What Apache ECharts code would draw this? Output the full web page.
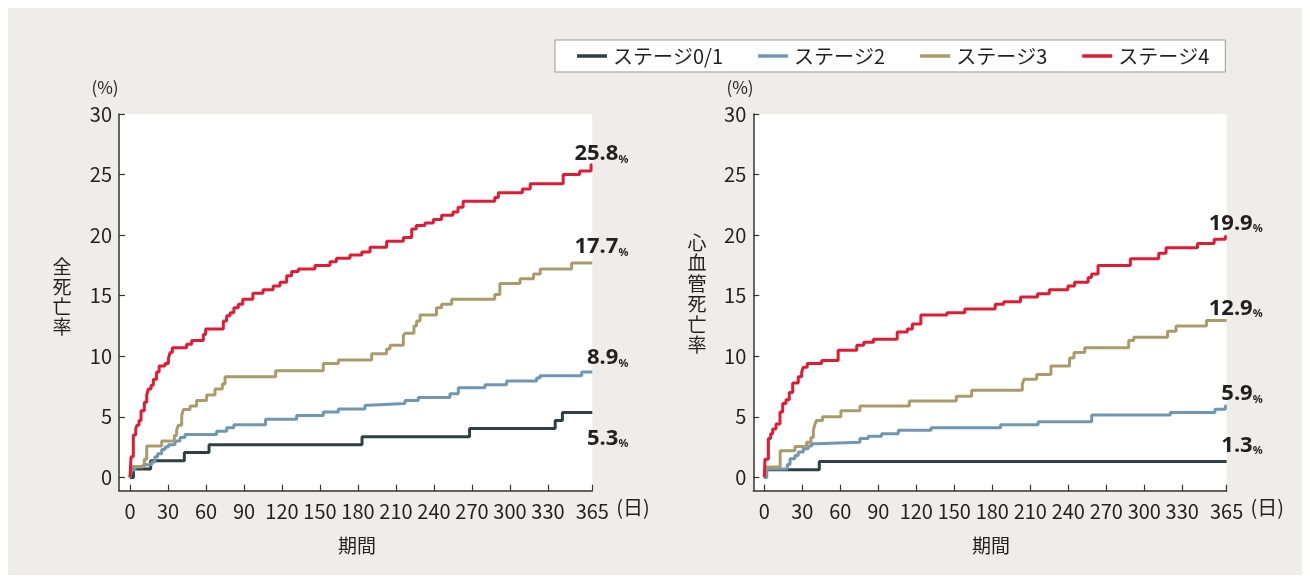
<!DOCTYPE html>
<html>
<head>
<meta charset="utf-8">
<script src="https://cdn.jsdelivr.net/npm/echarts@6/dist/echarts.min.js"></script>
<style>
html, body { margin: 0; padding: 0; background: #fff; }
#main { width: 1310px; height: 581px; }
</style>
</head>
<body>
<div id="main"></div>
<script>
// ステージ名
var stageNames = ['ステージ0/1', 'ステージ2', 'ステージ3', 'ステージ4'];

// 全死亡率 [日, %]
var allS01 = [[0,0],[2.7,0.7],[16.3,1.37],[42.9,2.06],[62.4,2.7],[183.2,3.35],[268.1,4.04],[335.7,4.7],[341.4,5.35],[365,5.35]];
var allS2 = [[0,0],[1.3,0.6],[3.9,0.85],[10.5,1.05],[17.1,1.26],[19.7,1.7],[21.8,1.95],[25,2.3],[27.6,2.5],[30.3,2.7],[35.5,3.0],[39.5,3.3],[43.4,3.55],[68.4,3.8],[76.3,4.1],[82,4.35],[107,4.8],[131.6,5.1],[152.6,5.4],[164.5,5.65],[185.5,5.95],[188.2,6.1],[217.1,6.35],[227.6,6.6],[252.6,6.9],[259.2,7.4],[280.3,7.65],[297.4,7.95],[321,8.2],[323.7,8.4],[356.6,8.7],[365,8.7]];
var allS3 = [[0,0],[0.8,0.9],[11.3,1.5],[13.2,2.6],[25,3.0],[35,3.46],[36.8,3.9],[38.2,4.3],[40.8,5.1],[42.1,5.6],[47.4,5.9],[52.6,6.35],[60.5,6.8],[67.1,7.3],[72.9,7.7],[75,8.3],[115,8.8],[152.6,9.4],[164.5,9.7],[190.8,10.2],[202.6,10.6],[205.3,10.9],[215.8,11.7],[217.1,11.9],[224.2,12.5],[226.3,12.9],[229,13.4],[242,14.0],[246,14.3],[254,14.7],[288,15.1],[292,16.0],[308,16.4],[318.6,16.8],[323.9,17.2],[348.7,17.7],[365,17.7]];
var allS4 = [[0,0],[0.8,1.7],[2.6,3.5],[4.5,4.0],[5.5,4.3],[7.1,4.7],[8.7,5.5],[11.3,6.2],[13.2,6.8],[14.5,7.3],[16.6,7.6],[18.4,8.1],[21,8.7],[23,9.2],[27.6,9.4],[30.3,9.8],[31.6,10.3],[33.4,10.7],[44.7,11.0],[48.7,11.3],[57.9,11.8],[59.7,12.25],[73.7,12.9],[76.3,13.35],[79,13.6],[82,14.0],[85.5,14.3],[89,14.7],[97,15.2],[105,15.5],[113,15.8],[118.4,16.1],[123.7,16.65],[127.6,17.0],[132.9,17.2],[146,17.5],[157.9,17.8],[163,18.1],[173.7,18.35],[183,18.6],[189.5,19.0],[202.6,19.5],[215.8,19.8],[222.4,20.5],[226,20.8],[232.9,21.0],[239.5,21.3],[246,21.65],[255,21.9],[259,22.3],[263,22.8],[288,23.1],[290.8,23.5],[309.8,23.8],[316,24.25],[342,25.0],[355,25.3],[364,25.8],[365,25.8]];

// 心血管死亡率 [日, %]
var cvS01 = [[0,0],[1.8,0.63],[43.4,1.32],[365,1.32]];
var cvS2 = [[0,0],[1.8,0.5],[3.2,0.7],[18.2,1.07],[20.3,1.54],[24.2,1.8],[26.8,2.1],[30.8,2.36],[34.7,2.6],[37.4,2.77],[41.3,2.9],[75.5,3.2],[82.1,3.4],[92.6,3.6],[105.8,3.9],[131.7,4.1],[186.6,4.34],[216.2,4.6],[258.5,5.16],[320.6,5.36],[355.8,5.63],[364,5.9],[365,5.9]];
var cvS3 = [[0,0],[1,0.85],[12.5,2.2],[24.2,2.55],[33.4,2.9],[36.8,3.3],[38.7,3.9],[40,4.4],[41.3,4.7],[46,5.0],[60.5,5.5],[75.5,5.9],[114.5,6.3],[151.6,6.7],[163.7,7.2],[203.7,7.7],[205,8.1],[215.1,8.5],[226.3,9.2],[241,9.86],[244.5,10.3],[253,10.7],[287.7,11.3],[291.7,11.57],[318.4,12.07],[325.1,12.5],[349.1,12.95],[365,12.95]];
var cvS4 = [[0,0],[0.5,1.5],[3.2,3.2],[5,3.6],[6.6,4.0],[9.2,4.4],[12.4,5.4],[14.5,6.1],[17.1,6.4],[19.7,7.0],[22.4,7.8],[26.8,8.3],[29.5,8.7],[30.8,9.1],[33.9,9.4],[45.3,9.64],[58.3,10.5],[73,10.9],[78.5,11.15],[86.2,11.4],[104.9,12.0],[112.9,12.26],[116.9,12.67],[123.6,13.4],[144.2,13.6],[158.3,13.9],[182.3,14.3],[189,14.5],[202.3,14.9],[215.7,15.15],[225,15.5],[239.7,15.8],[245,16.1],[255.7,16.5],[258.4,16.8],[263.5,17.5],[289,18.05],[311.4,18.5],[317.2,18.95],[342,19.3],[355.2,19.65],[364,19.9],[365,19.9]];

// 終点ラベル
var allEnd = ['5.3', '8.9', '17.7', '25.8'];
var cvEnd = ['1.3', '5.9', '12.9', '19.9'];

// 目盛
var xTicks = [0, 30, 60, 90, 120, 150, 180, 210, 240, 270, 300, 330, 365];
var yTicks = [0, 5, 10, 15, 20, 25, 30];

var colors = ['#2d4145', '#7097b2', '#ab9b6b', '#e21b35'];
var fontNum = "'Liberation Sans Narrow', 'Noto Sans CJK JP', sans-serif";
var fontJa = "'Noto Sans CJK JP', sans-serif";
var textColor = '#231f20';

// ラベル位置のずれ (左・右)
var allLabelOffset = [[36, 25], [36, -15], [36, -17], [36, -12]];
var cvLabelOffset = [[36, -17], [36, -13], [36, -13], [36, -14]];

var chart = echarts.init(document.getElementById('main'));

function makeXAxis(idx) {
  return {
    gridIndex: idx,
    type: 'value',
    min: -8.7,
    max: 365,
    name: '(日)',
    nameLocation: 'end',
    nameGap: 24,
    nameTextStyle: { fontSize: 20, color: textColor, fontFamily: fontJa, verticalAlign: 'top', padding: [7, 0, 0, 0] },
    splitLine: { show: false },
    axisLine: { onZero: false, lineStyle: { color: '#333', width: 1.5 } },
    axisTick: { inside: true, length: 6, customValues: xTicks, lineStyle: { color: '#333', width: 1.2 } },
    axisLabel: { customValues: xTicks, margin: 11, fontSize: 20, color: textColor, fontFamily: fontNum }
  };
}

function makeYAxis(idx) {
  return {
    gridIndex: idx,
    type: 'value',
    min: -1.1,
    max: 30,
    splitLine: { show: false },
    axisLine: { onZero: false, lineStyle: { color: '#333', width: 1.5 } },
    axisTick: { inside: true, length: 6, customValues: yTicks, lineStyle: { color: '#333', width: 1.2 } },
    axisLabel: { customValues: yTicks, margin: 7, fontSize: 20, color: textColor, fontFamily: fontNum }
  };
}

function makeSeries(name, data, idx, color, endText, offset) {
  var last = data[data.length - 1];
  return {
    name: name,
    type: 'line',
    step: 'end',
    xAxisIndex: idx,
    yAxisIndex: idx,
    data: data,
    showSymbol: false,
    symbol: 'none',
    color: color,
    lineStyle: { width: 3, color: color },
    markPoint: {
      symbol: 'circle',
      symbolSize: 1,
      itemStyle: { color: 'rgba(0,0,0,0)' },
      label: {
        show: true,
        position: 'inside',
        align: 'right',
        verticalAlign: 'middle',
        offset: offset,
        formatter: '{a|' + endText + '}{b|%}',
        rich: {
          a: { fontSize: 22, fontWeight: 'bold', color: textColor, fontFamily: "'Noto Sans', sans-serif", verticalAlign: 'bottom', lineHeight: 24 },
          b: { fontSize: 11, fontWeight: 'bold', color: textColor, fontFamily: "'Noto Sans', sans-serif", verticalAlign: 'bottom', lineHeight: 20 }
        }
      },
      data: [{ coord: [last[0], last[1]], value: endText }]
    }
  };
}

var allData = [allS01, allS2, allS3, allS4];
var cvData = [cvS01, cvS2, cvS3, cvS4];
var series = [];
for (var i = 0; i < 4; i++) {
  series.push(makeSeries(stageNames[i], allData[i], 0, colors[i], allEnd[i], allLabelOffset[i]));
}
for (var j = 0; j < 4; j++) {
  series.push(makeSeries(stageNames[j], cvData[j], 1, colors[j], cvEnd[j], cvLabelOffset[j]));
}

var option = {
  animation: false,
  color: colors,
  legend: {
    data: stageNames,
    left: 555,
    top: 40,
    icon: 'rect',
    itemWidth: 30,
    itemHeight: 3.5,
    itemGap: 35,
    padding: [6, 16, 6, 22],
    backgroundColor: '#fff',
    borderColor: '#9a9a9a',
    borderWidth: 1,
    selectedMode: false,
    textStyle: { fontSize: 20, color: textColor, fontFamily: fontJa, padding: [0, 0, 0, 1] }
  },
  grid: [
    { left: 119, top: 114, width: 473.3, height: 376.7, show: true, backgroundColor: '#fff', borderWidth: 0 },
    { left: 753.3, top: 114, width: 473.3, height: 376.7, show: true, backgroundColor: '#fff', borderWidth: 0 }
  ],
  xAxis: [makeXAxis(0), makeXAxis(1)],
  yAxis: [makeYAxis(0), makeYAxis(1)],
  graphic: [
    { type: 'rect', z: -10, shape: { x: 8, y: 8, width: 1294, height: 567 }, style: { fill: '#eeede9' } },
    { type: 'text', x: 105, y: 88, style: { text: '(%)', fontSize: 17, fill: textColor, fontFamily: fontNum, align: 'center', verticalAlign: 'middle' } },
    { type: 'text', x: 740, y: 88, style: { text: '(%)', fontSize: 17, fill: textColor, fontFamily: fontNum, align: 'center', verticalAlign: 'middle' } },
    { type: 'text', x: 62, y: 297, style: { text: '全\n死\n亡\n率', fontSize: 19, lineHeight: 20, fill: textColor, fontFamily: fontJa, align: 'center', verticalAlign: 'middle' } },
    { type: 'text', x: 697, y: 294, style: { text: '心\n血\n管\n死\n亡\n率', fontSize: 19, lineHeight: 20.5, fill: textColor, fontFamily: fontJa, align: 'center', verticalAlign: 'middle' } },
    { type: 'text', x: 357, y: 546, style: { text: '期間', fontSize: 19, fill: textColor, fontFamily: fontJa, align: 'center', verticalAlign: 'middle' } },
    { type: 'text', x: 991, y: 546, style: { text: '期間', fontSize: 19, fill: textColor, fontFamily: fontJa, align: 'center', verticalAlign: 'middle' } }
  ],
  series: series
};

chart.setOption(option);
</script>
</body>
</html>
